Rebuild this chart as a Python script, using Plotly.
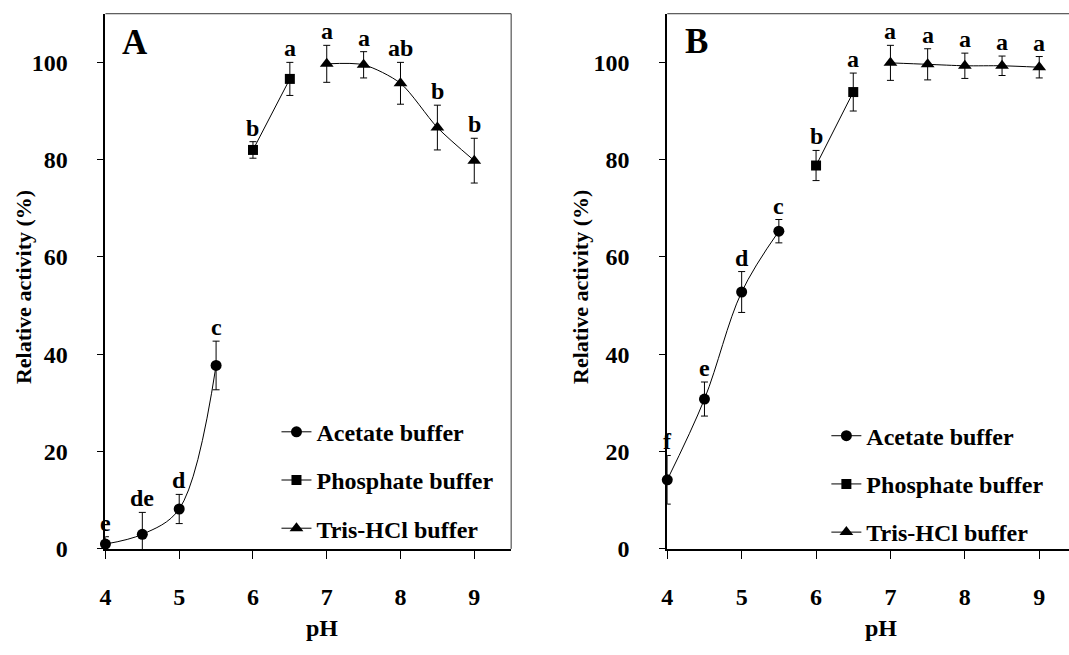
import plotly.graph_objects as go

# ---------------- data ----------------
ph_acetate = [4.0, 4.5, 5.0, 5.5]
ph_phosphate = [6.0, 6.5]
ph_tris = [7.0, 7.5, 8.0, 8.5, 9.0]

# Panel A
A_acetate = [1.0, 3.0, 8.2, 37.7]
A_acetate_err = [1.5, 4.5, 3.0, 5.0]
A_acetate_lbl = ["e", "de", "d", "c"]
A_phosphate = [82.0, 96.6]
A_phosphate_err = [1.7, 3.4]
A_phosphate_lbl = ["b", "a"]
A_tris = [99.7, 99.5, 95.7, 86.6, 79.8]
A_tris_err = [3.8, 2.7, 4.3, 4.6, 4.6]
A_tris_lbl = ["a", "a", "ab", "b", "b"]

# Panel B
B_acetate = [14.2, 30.8, 52.8, 65.3]
B_acetate_err = [5.0, 3.5, 4.2, 2.4]
B_acetate_lbl = ["f", "e", "d", "c"]
B_phosphate = [78.8, 93.9]
B_phosphate_err = [3.1, 3.9]
B_phosphate_lbl = ["b", "a"]
B_tris = [99.9, 99.6, 99.3, 99.3, 99.0]
B_tris_err = [3.6, 3.2, 2.6, 2.0, 2.2]
B_tris_lbl = ["a", "a", "a", "a", "a"]

series_names = ["Acetate buffer", "Phosphate buffer", "Tris-HCl buffer"]
x_ticks = [4, 5, 6, 7, 8, 9]
y_ticks = [0, 20, 40, 60, 80, 100]

# ---------------- layout helpers ----------------
W, H = 1069, 655
def px(x):
    return x / W
def py(y):
    return 1 - y / H

FONT = "Liberation Serif, Times New Roman, serif"
def f(size):
    return dict(family=FONT, size=size, color="black", weight="bold")

symbols = ["circle", "square", "triangle-up"]
msizes = [11, 10, 12]
smooth = [1.0, 1.0, 0.75]

fig = go.Figure()

panels = [
    ("x", "y", "legend", [(ph_acetate, A_acetate, A_acetate_err, A_acetate_lbl),
                          (ph_phosphate, A_phosphate, A_phosphate_err, A_phosphate_lbl),
                          (ph_tris, A_tris, A_tris_err, A_tris_lbl)]),
    ("x2", "y2", "legend2", [(ph_acetate, B_acetate, B_acetate_err, B_acetate_lbl),
                             (ph_phosphate, B_phosphate, B_phosphate_err, B_phosphate_lbl),
                             (ph_tris, B_tris, B_tris_err, B_tris_lbl)]),
]

annotations = []
for pi, (xa, ya, leg, sers) in enumerate(panels):
    for si, (xs, ys, es, lbls) in enumerate(sers):
        fig.add_trace(go.Scatter(
            x=xs, y=ys, xaxis=xa, yaxis=ya,
            mode="lines+markers",
            name=series_names[si],
            legend=leg,
            legendgroup=f"{leg}-{si}",
            line=dict(color="black", width=1, shape="spline", smoothing=smooth[si]),
            marker=dict(symbol=symbols[si], size=msizes[si], color="black"),
            error_y=dict(type="data", array=es, visible=True, color="black",
                         thickness=1, width=3.5),
            cliponaxis=False,
        ))
        for xv, yv, ev, lb in zip(xs, ys, es, lbls):
            annotations.append(dict(
                x=xv, y=yv + ev, xref=xa, yref=ya, text=lb, showarrow=False,
                yanchor="bottom", xanchor="center", yshift=-1, font=f(24),
            ))

# axis titles and panel letters
for (tx, ty, txt, ang, sz) in [
    (17, 293, "Relative activity (%)", -90, 22),
    (577, 293, "Relative activity (%)", -90, 22),
    (318, 641, "pH", 0, 24),
    (880, 641, "pH", 0, 24),
    (130, 43, "A", 0, 35),
    (694, 42, "B", 0, 35),
]:
    annotations.append(dict(x=px(tx), y=py(ty), xref="paper", yref="paper",
                            text=txt, textangle=ang, showarrow=False,
                            xanchor="center", yanchor="middle", font=f(sz)))

xaxis_common = dict(
    tickvals=x_ticks, ticks="outside", ticklen=8, tickwidth=1, tickcolor="black",
    showline=True, linewidth=2, linecolor="black", showgrid=False, zeroline=False,
    tickfont=f(24), ticklabelstandoff=17,
)
yaxis_common = dict(
    tickvals=y_ticks, range=[0, 110], ticks="outside", ticklen=6, tickwidth=1,
    tickcolor="black", showline=True, linewidth=2, linecolor="black",
    showgrid=False, zeroline=False, tickfont=f(24), ticklabelstandoff=25,
    domain=[py(560), py(14)],
)

legend_common = dict(
    xanchor="left", yanchor="top", font=f(24), bgcolor="rgba(0,0,0,0)",
    traceorder="grouped", tracegroupgap=14, itemwidth=30,
)

fig.update_layout(
    width=W, height=H,
    margin=dict(l=0, r=0, t=0, b=0),
    paper_bgcolor="white", plot_bgcolor="white",
    showlegend=True,
    xaxis=dict(domain=[px(100), px(508)], range=[4, 9.5], anchor="y", **xaxis_common),
    yaxis=dict(anchor="x", **yaxis_common),
    xaxis2=dict(domain=[px(665), 1.0], range=[4, 9.4], anchor="y2", **xaxis_common),
    yaxis2=dict(anchor="x2", **yaxis_common),
    legend=dict(x=px(272), y=py(418), **legend_common),
    legend2=dict(x=px(825), y=py(422), **legend_common),
    annotations=annotations,
    shapes=[
        dict(type="line", xref="paper", yref="paper", x0=px(100), x1=px(508),
             y0=py(14), y1=py(14), line=dict(color="#333", width=1)),
        dict(type="line", xref="paper", yref="paper", x0=px(508), x1=px(508),
             y0=py(14), y1=py(560), line=dict(color="#333", width=1)),
        dict(type="line", xref="paper", yref="paper", x0=px(665), x1=1.0,
             y0=py(14), y1=py(14), line=dict(color="#333", width=1)),
    ],
)

fig.write_html("out.html")
